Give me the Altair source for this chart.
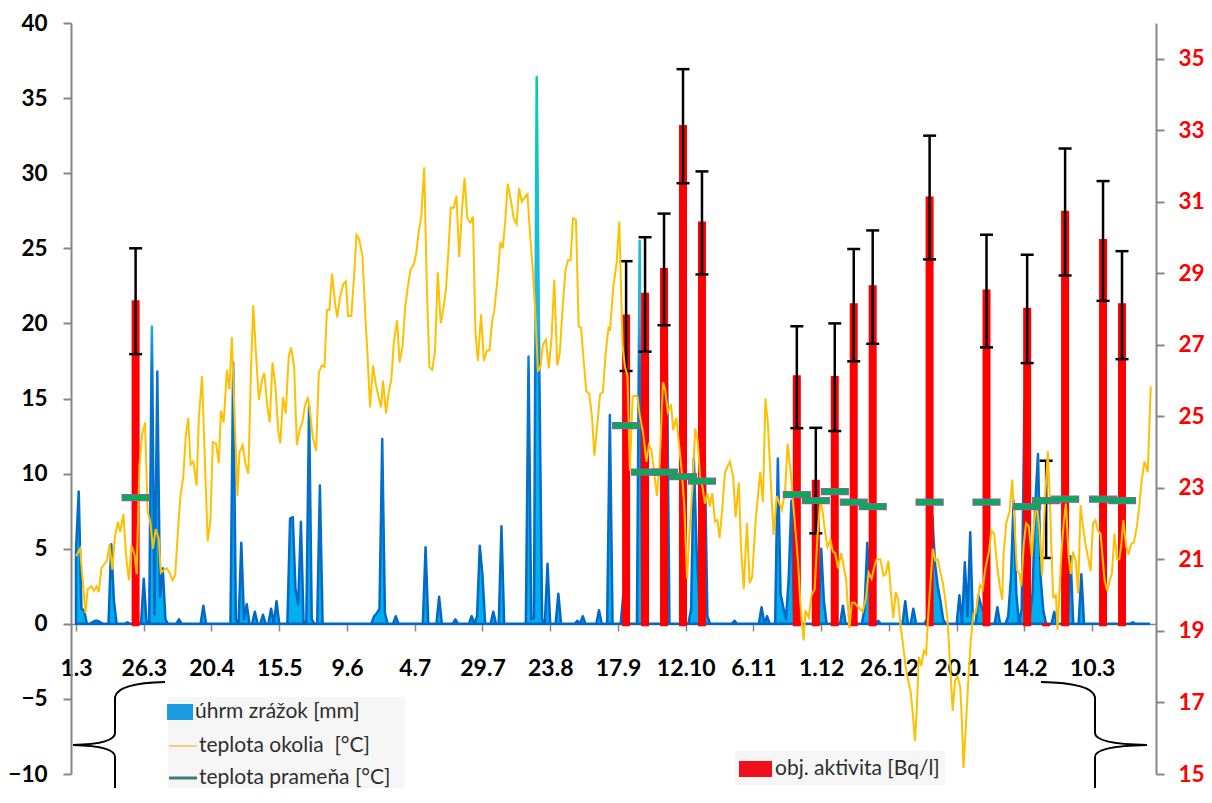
import altair as alt
import pandas as pd

FONT = "Lato"

# ---------------- x axis (days since 1.3) ----------------
X_LABELS = ["1.3", "26.3", "20.4", "15.5", "9.6", "4.7", "29.7", "23.8", "17.9",
            "12.10", "6.11", "1.12", "26.12", "20.1", "14.2", "10.3"]
X_TICKS = [0, 25, 50, 75, 100, 125, 150, 175, 200, 225, 250, 275, 300, 325, 350, 375]
N_DAYS = 397

# ---------------- precipitation (úhrm zrážok, mm), non-zero days ----------------
rain_day = [0, 1, 2, 3, 6, 7, 8, 9, 13, 14, 19, 25, 26, 28, 29, 30, 31, 32, 33, 38, 47,
            58, 59, 61, 62, 63, 66, 69, 72, 74, 79, 80, 81, 82, 83, 85, 86, 87, 90,
            110, 111, 112, 113, 114, 118, 129, 134, 140, 146, 148, 149, 150, 154, 157,
            167, 168, 169, 170, 171, 172, 174, 178, 185, 187, 193, 197, 202, 208, 218,
            227, 228, 229, 230, 231, 232, 233, 243, 253, 255, 259, 260, 261, 262, 263,
            264, 265, 275, 276, 283, 291, 292, 293, 294, 296, 306, 309, 314, 315, 316,
            317, 318, 319, 320, 326, 328, 329, 330, 333, 334, 335, 340, 344, 345, 346,
            347, 349, 350, 351, 352, 353, 354, 355, 356, 357, 361, 367, 371, 390]
rain_mm = [4.9, 8.8, 1.0, 0.9, 0.1, 0.2, 0.2, 0.1, 5.3, 1.5, 0.1, 3.0, 0.2, 19.8, 0.6, 16.8,
           1.8, 3.7, 0.3, 0.3, 1.2,
           17.4, 0.3, 5.4, 0.3, 1.3, 0.8, 0.6, 1.0, 1.5, 7.0, 7.1, 2.3, 1.3, 6.8, 0.2, 14.5,
           0.3, 9.2,
           0.5, 0.7, 1.0, 12.3, 0.7, 0.5, 5.1, 1.8, 0.3, 0.5, 0.5, 5.2, 3.2, 0.8, 6.5,
           17.8, 0.3, 0.4, 36.4, 16.5, 0.3, 4.0, 2.0, 0.2, 0.5, 0.9, 13.9, 2.0, 25.5, 19.0,
           1.0, 11.0, 5.0, 1.5, 4.0, 11.4, 0.5, 0.2, 1.1, 0.5, 11.0, 2.0, 1.1, 0.3, 3.0,
           8.2, 0.5, 5.0, 1.5, 1.2, 1.0, 5.4, 2.0, 0.5, 0.2, 1.5, 1.0, 0.3, 1.0, 7.2,
           4.0, 2.5, 1.5, 0.3, 1.9, 4.1, 0.5, 6.1, 1.9, 1.2, 0.8, 1.1, 0.5, 3.0, 8.2,
           2.0, 1.0, 14.8, 2.0, 0.5, 2.0, 8.0, 11.3, 3.0, 0.8, 0.8, 4.5, 3.3, 0.1]

# ---------------- ambient temperature (teplota okolia, °C) ----------------
temp_day = [0, 1.5, 3.5, 4.3, 5.7, 6.6, 7.6, 8.4, 9.4, 11.4, 12.4, 13.4, 14.3, 15.5, 16.3,
            17.5, 18.5, 19.5, 20.4, 21.6, 22.4, 23.4, 24.4, 25.5, 26.4, 27.4, 28.4, 29.4,
            30.5, 31.3, 32.5, 33.5, 34.5, 35.6, 36.6, 37.7, 38.6, 39.6, 40.5, 41.4, 42.3,
            43.3, 44.5, 45.3, 46.5, 47.8, 48.6, 49.6, 50.5, 51.7, 52.7, 53.5, 54.5, 55.7,
            56.6, 57.5, 58.5, 59.6, 60.3, 61.5, 62.6, 63.6, 64.6, 65.4, 66.4, 67.5, 68.7,
            69.5, 70.6, 71.5, 72.5, 73.6, 74.6, 75.4, 76.4, 77.4, 78.5, 79.4, 80.5, 81.5,
            82.5, 83.5, 84.5, 85.6, 86.4, 87.4, 88.6, 89.6, 90.7, 91.7, 92.6, 93.5, 94.5,
            95.7, 96.4, 97.4, 98.6, 99.6, 100.4, 101.6, 102.6, 103.5, 104.5, 105.7, 106.9,
            107.5, 108.5, 109.6, 110.6, 111.8, 112.6, 113.3, 114.4, 115.4, 116.4, 117.3,
            118.5, 119.4, 120.5, 121.5, 122.5, 123.5, 124.6, 125.5, 126.4, 127.4, 128.5,
            129.4, 130.4, 131.5, 132.5, 133.5, 134.6, 135.5, 136.5, 137.4, 138.3, 139.4,
            140.4, 141.4, 142.5, 143.4, 144.4, 145.5, 146.5, 147.4, 148.3, 149.5, 150.5,
            151.6, 152.6, 153.6, 154.4, 155.6, 156.6, 157.5, 158.4, 159.3, 160.5, 161.5,
            162.6, 163.5, 164.5, 165.6, 166.6, 167.6, 168.4, 169.3, 169.9, 170.5, 171.5,
            172.3, 173.4, 174.5, 175.5, 176.5, 177.6, 178.5, 179.6, 180.6, 181.5, 182.5,
            183.4, 184.5, 185.5, 186.4, 187.3, 188.3, 189.4, 190.4, 191.3, 192.2, 193.4,
            194.4, 195.5, 196.5, 197.1,
            198.3, 199.5, 200.5, 201.7, 202.6, 203.5, 204.4, 205.4, 206.2, 207.2, 208.0,
            209.3, 210.5, 211.4, 212.3, 213.3, 214.4, 215.4, 216.6, 217.4, 218.4, 219.6,
            220.4, 221.5, 222.4, 223.6, 224.5, 225.5, 226.3, 227.5, 228.5, 229.4, 230.3,
            231.2, 232.1, 233.0, 233.9, 234.8, 235.8, 236.7, 237.5, 238.5, 239.5, 241.3,
            242.5, 243.4, 244.6, 245.4, 246.4, 247.6, 248.6, 249.5, 250.9, 252.5, 253.5,
            254.4, 255.3, 256.2, 257.4, 258.6, 260.5, 261.7, 262.6, 263.8, 265.1, 266.5,
            267.3, 268.5, 269.2, 270.4, 271.4, 272.6, 273.6, 274.6, 275.3, 276.3, 277.3,
            278.4, 279.3, 280.2, 281.2, 282.4, 283.4, 284.2, 285.4, 286.3, 287.3, 288.2,
            289.2, 290.3, 291.5, 292.5, 293.6, 294.6, 295.5,
            296.8, 298.0, 298.8, 299.8, 300.9, 301.6, 302.5, 303.4, 304.3, 305.3, 306.1,
            307.0, 308.0, 308.8, 309.6, 310.2, 311.0, 311.9, 312.9, 313.7, 314.4, 315.3,
            316.2, 317.1, 318.0, 318.9, 319.9, 320.8, 321.6, 322.6, 323.5, 324.4, 325.3,
            326.3, 326.9, 327.5, 328.3, 329.3, 330.2, 331.2, 332.0, 332.7, 333.6, 334.6,
            335.5, 336.3, 337.0, 337.8, 338.8, 339.9, 340.9, 341.8, 342.3, 343.3, 344.5,
            345.5, 346.4, 347.2, 348.2, 348.8, 349.7, 350.6, 351.6, 352.7, 353.7, 354.5,
            355.5, 356.5, 357.3, 358.0, 358.6, 359.4, 360.0, 360.6, 361.6, 362.2, 363.1,
            363.8, 364.6, 365.3, 366.3, 367.1, 367.9, 368.9, 369.8, 370.7, 371.6, 372.6,
            373.4, 374.4, 375.3, 376.2, 377.1, 378.1, 378.9, 379.6, 380.5, 381.4, 382.3,
            383.2, 384.2, 385.0, 385.7, 386.5, 387.5, 388.4, 389.3, 390.4, 391.5, 392.3,
            393.3, 394.3, 395.5, 396.6]
temp_c = [4.5, 5.0, 0.7, 2.3, 2.5, 2.2, 2.5, 2.1, 3.7, 4.2, 5.3, 3.6, 5.7, 6.8, 6.1,
          7.3, 4.5, 2.9, 5.2, 4.6, 3.3, 10.5, 12.6, 13.4, 7.5, 6.8, 5.0, 6.3,
          5.7, 3.4, 3.6, 3.7, 3.4, 2.9, 3.2, 6.4, 8.6, 9.8, 12.5, 13.7, 10.6,
          10.8, 9.2, 13.6, 16.5, 9.6, 5.5, 6.9, 12.1, 12.0, 10.7, 14.2, 13.4, 16.9,
          15.6, 19.1, 14.0, 8.5, 11.4, 11.9, 10.6, 10.0, 17.1, 21.2, 18.0, 14.9, 16.3,
          16.7, 14.5, 13.4, 17.4, 15.8, 12.9, 12.0, 15.1, 14.0, 17.8, 18.4, 17.1, 11.9,
          12.9, 13.4, 14.5, 15.1, 14.0, 12.4, 11.5, 16.7, 17.2, 17.1, 20.9, 20.9, 23.3,
          21.2, 20.4, 21.7, 22.6, 22.8, 20.5, 20.5, 23.1, 25.9, 25.6, 24.5, 20.0,
          18.2, 14.4, 17.2, 16.0, 15.0, 14.4, 16.2, 14.0, 15.4, 16.3, 18.8,
          20.2, 17.4, 18.5, 21.1, 22.5, 23.6, 23.9, 24.6, 26.0, 27.1, 30.4,
          22.9, 17.1, 16.9, 18.2, 23.4, 20.0, 20.9, 22.2, 24.7, 27.7, 27.7,
          28.5, 24.4, 27.7, 29.7, 27.0, 26.7, 27.1, 19.4, 17.5, 20.6, 17.5,
          18.2, 18.2, 20.2, 20.9, 23.1, 25.4, 25.0, 26.8, 29.3, 28.2, 27.0,
          26.6, 29.0, 28.1, 28.4, 28.6, 25.8, 24.0, 21.4, 19.1, 16.8, 17.2,
          18.6, 18.9, 17.0, 19.1, 22.9, 17.2, 18.0, 21.1, 23.5, 24.2, 24.2,
          27.0, 26.9, 19.8, 19.7, 17.6, 15.5, 15.3, 13.8, 11.2, 12.9, 15.3,
          15.4, 18.1, 19.7, 19.6,
          22.5, 24.0, 26.8, 18.5, 17.1, 16.5, 10.2, 15.1, 15.2, 15.1, 13.9,
          12.7, 10.8, 11.9, 11.6, 10.2, 8.5, 10.8, 16.1, 15.6, 14.1, 14.6,
          12.9, 13.7, 12.2, 10.0, 7.8, 3.0, 5.8, 9.1, 13.0, 12.2, 9.8,
          9.1, 8.0, 8.7, 7.8, 8.7, 6.8, 6.9, 5.7, 7.7, 10.1, 10.8,
          9.8, 7.1, 9.4, 5.1, 2.3, 6.7, 2.7, 3.1, 7.1, 10.1, 8.1,
          15.0, 13.4, 10.2, 5.9, 8.5, 7.6, 8.9, 12.0, 10.0, 7.1, 4.0,
          1.4, -1.1, 0.9, 0.4, 1.9, 2.3, 5.8, 8.0, 7.8, 6.3, 5.1,
          5.6, 4.8, 4.7, 3.7, 4.7, 3.7, 2.9, -0.3, 1.4, 1.4, 1.2,
          1.0, 0.8, 1.7, 3.4, 3.0, 3.8, 4.3,
          4.3, 3.2, 3.3, 4.2, 1.7, 0.4, 2.1, 1.6, -0.2, -1.5, -2.8,
          -3.7, -4.5, -6.0, -7.8, -6.0, -2.2, -2.8, -1.8, -2.0, 0.3, 2.7,
          5.0, 4.2, 4.3, 3.5, 2.7, 1.6, 0.3, -2.8, -5.8, -3.8, -3.5,
          -4.2, -6.4, -9.6, -7.1, -3.7, -1.1, 0.7, 0.7, 1.6, 2.6, 2.3,
          3.6, 4.3, 4.9, 6.2, 6.0, 3.9, 2.5, 1.6, 4.7, 6.7, 7.5,
          9.6, 6.5, 3.6, 3.3, 2.5, 5.2, 6.7, 6.5, 4.5, 6.9, 8.1,
          6.3, 3.2, 6.9, 9.6, 11.5, 8.3, 4.6, 1.8, 1.9, -0.4, 2.9,
          5.2, 6.9, 8.0, 4.5, 3.3, 4.8, 4.2, 2.0, 7.9, 6.5, 5.2,
          4.5, 3.5, 6.7, 6.9, 6.2, 6.0, 4.3, 2.9, 2.2, 2.8, 3.4,
          6.0, 4.3, 4.3, 5.2, 6.9, 5.2, 4.6, 5.3, 5.4, 6.5, 7.7,
          9.6, 10.8, 10.1, 15.8]

# ---------------- sampling days: activity (Bq/l) and spring temperature ----------------
act_day = [22, 203, 210, 217, 224, 231, 266, 273, 280, 287, 294, 315, 336, 351, 358, 365, 379, 386]
act_bq = [28.25, 27.85, 28.46, 29.15, 33.15, 30.45, 26.15, 23.23, 26.13, 28.16, 28.67,
          31.15, 28.55, 28.04, 19.22, 30.75, 29.96, 28.16]
act_hi = [29.70, 29.34, 30.01, 30.67, 34.71, 31.85, 27.52, 24.68, 27.60, 29.68, 30.20,
          32.85, 30.08, 29.52, 23.76, 32.49, 31.58, 29.62]
act_lo = [26.74, 26.27, 26.81, 27.55, 31.52, 28.97, 24.67, 21.73, 24.59, 26.54, 27.03,
          29.39, 26.93, 26.49, 21.04, 28.94, 28.23, 26.60]
spring_c = [8.4, 13.2, 10.1, 10.1, 9.8, 9.5, 8.6, 8.2, 8.8, 8.1, 7.8, 8.1, 8.1, 7.8,
            8.2, 8.3, 8.3, 8.2]
BAR_BASE = 19.13  # where the secondary-axis bars start (just under the 0 line)

# ---------------- tables ----------------
rain_map = dict(zip(rain_day, rain_mm))
rain_df = pd.DataFrame({"day": list(range(N_DAYS)),
                        "mm": [rain_map.get(d, 0.0) for d in range(N_DAYS)]})
temp_df = pd.DataFrame({"day": temp_day, "t": temp_c})
act_df = pd.DataFrame({"day": act_day, "bq": act_bq, "hi": act_hi, "lo": act_lo,
                       "spring": spring_c, "base": [BAR_BASE] * len(act_day)})
one = pd.DataFrame({"k": [1]})

# ---------------- scales / axes ----------------
label_expr = "[" + ",".join("'%s'" % s for s in X_LABELS) + "][round(datum.value / 25)]"
x_scale = alt.Scale(domain=[0, 396.7], nice=False, zero=False)
x_axis = alt.Axis(values=X_TICKS, labelExpr=label_expr, title=None, orient="bottom",
                  offset=-150, grid=False, domainColor="#868686", domainWidth=1.5,
                  tickColor="#868686", tickWidth=1.5, tickSize=7,
                  labelFont=FONT, labelFontSize=23, labelFontWeight="bold",
                  labelColor="black", labelPadding=26, labelFlush=False,
                  labelOverlap=False)
X = alt.X("day:Q", scale=x_scale, axis=x_axis)

yl_scale = alt.Scale(domain=[-10, 40], nice=False, zero=False)
yr_scale = alt.Scale(domain=[15, 36], nice=False, zero=False)
yl_axis = alt.Axis(values=list(range(-10, 41, 5)), orient="left", title=None, grid=False,
                   domainColor="#868686", domainWidth=2, tickColor="#868686",
                   tickWidth=2, tickSize=8, labelFont=FONT, labelFontSize=22.5,
                   labelFontWeight="bold", labelColor="black", labelPadding=16)
yr_axis = alt.Axis(values=list(range(15, 36, 2)), orient="right", title=None, grid=False,
                   domainColor="#868686", domainWidth=2, tickColor="#868686",
                   tickWidth=2, tickSize=8, labelFont=FONT, labelFontSize=22.5,
                   labelFontWeight="bold", labelColor="#FF0000", labelPadding=14)

fill_grad = alt.Gradient(gradient="linear", x1=0, x2=0, y1=0, y2=1, stops=[
    alt.GradientStop(color="#00D2A4", offset=0.0),
    alt.GradientStop(color="#12C4D4", offset=0.3),
    alt.GradientStop(color="#10B4EC", offset=0.5),
    alt.GradientStop(color="#00AEEF", offset=1.0)])
stroke_grad = alt.Gradient(gradient="linear", x1=0, x2=0, y1=0, y2=1, stops=[
    alt.GradientStop(color="#00D2A4", offset=0.0),
    alt.GradientStop(color="#12C4D0", offset=0.22),
    alt.GradientStop(color="#22B4E6", offset=0.44),
    alt.GradientStop(color="#1290DC", offset=0.5),
    alt.GradientStop(color="#0874D0", offset=0.54),
    alt.GradientStop(color="#0068C6", offset=1.0)])

# ---------------- data layers ----------------
area = alt.Chart(rain_df).mark_area(
    fill=fill_grad, stroke=stroke_grad, strokeWidth=2.5, strokeJoin="round",
    interpolate="linear"
).encode(x=X, y=alt.Y("mm:Q", scale=yl_scale, axis=yl_axis))

bars = alt.Chart(act_df).mark_bar(size=8, color="#FF0000").encode(
    x=X, y=alt.Y("bq:Q", scale=yr_scale, axis=yr_axis), y2="base:Q")

err = alt.Chart(act_df).mark_rule(color="black", strokeWidth=2.5).encode(
    x=X, y=alt.Y("lo:Q", scale=yr_scale, axis=None), y2="hi:Q")
cap_hi = alt.Chart(act_df).mark_tick(orient="horizontal", size=13, thickness=2.5,
                                     color="black", opacity=1).encode(
    x=X, y=alt.Y("hi:Q", scale=yr_scale, axis=None))
cap_lo = alt.Chart(act_df).mark_tick(orient="horizontal", size=13, thickness=2.5,
                                     color="black", opacity=1).encode(
    x=X, y=alt.Y("lo:Q", scale=yr_scale, axis=None))

temp = alt.Chart(temp_df).mark_line(color="#FFC000", strokeWidth=2).encode(
    x=X, y=alt.Y("t:Q", scale=yl_scale, axis=None))

spring = alt.Chart(act_df).mark_tick(orient="horizontal", size=27, thickness=6,
                                     fill="#00B050", stroke="#8064A2",
                                     strokeWidth=1.2, opacity=1, fillOpacity=1).encode(
    x=X, y=alt.Y("spring:Q", scale=yl_scale, axis=None))

# ---------------- legend & braces (decoration, pixel positions in plot area) ----------------
def rect(x1, x2, y1, y2, fill):
    return alt.Chart(one).mark_rect(color=fill).encode(
        x=alt.value(x1), x2=alt.value(x2), y=alt.value(y1), y2=alt.value(y2))

def label(txt, x, y):
    return alt.Chart(one).mark_text(text=txt, align="left", baseline="middle", font=FONT,
                                    fontSize=21, color="#2E2E2E").encode(
        x=alt.value(x), y=alt.value(y))

def hline(x1, x2, y, col, w):
    return alt.Chart(one).mark_rule(color=col, strokeWidth=w).encode(
        x=alt.value(x1), x2=alt.value(x2), y=alt.value(y))

LEFT_BRACE = "M50,-63Q3,-62,0,-48L0,-12Q0,-1,-42,0Q0,1,0,12L0,48Q1,56,11,57"
RIGHT_BRACE = "M-54,-63Q-3,-62,0,-48L0,-12Q0,-1,52,0Q0,1,0,12L0,50Q-1,57,-13,58"

def brace(path, x, y):
    return alt.Chart(one).mark_point(shape=path, size=4, filled=False, color="black",
                                     strokeWidth=2, opacity=1).encode(
        x=alt.value(x), y=alt.value(y))

decor = [
    rect(97, 334, 674, 777, "#F6F6F6"),
    rect(664, 874, 728, 762, "#F6F6F6"),
    rect(96, 122, 681, 697, "#1C9CE0"),
    label("úhrm zrážok [mm]", 124, 689),
    hline(98, 126, 723, "#F2C24A", 1.5),
    label("teplota okolia\u00a0 [°C]", 128, 723),
    hline(98, 126, 755, "#3A7D7C", 3),
    label("teplota prameňa [°C]", 128, 755),
    rect(668, 701, 738, 754, "#F0101C"),
    label("obj. aktivita [Bq/l]", 704, 746),
    brace(LEFT_BRACE, 44, 722),
    brace(RIGHT_BRACE, 1024, 722),
]

chart = alt.layer(area, bars, err, cap_hi, cap_lo, temp, spring, *decor).resolve_scale(
    y="independent"
).properties(
    width=1085, height=751,
    padding={"left": 63, "top": 15, "right": 48, "bottom": 14},
    autosize=alt.AutoSizeParams(type="none"),
    background="white",
).configure_view(stroke=None)

chart.save("out.html", embed_options={"renderer": "svg", "actions": False})
